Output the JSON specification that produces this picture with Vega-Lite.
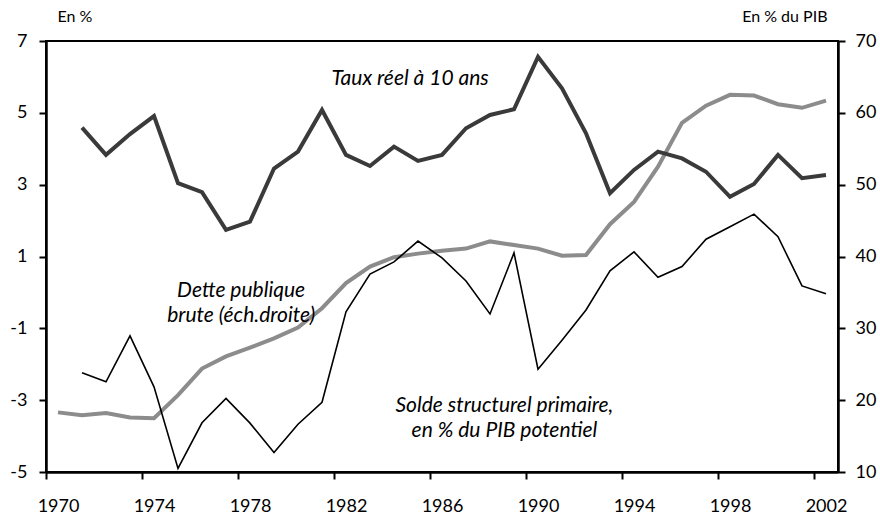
{
  "$schema": "https://vega.github.io/schema/vega-lite/v6.json",
  "width": 792,
  "height": 431,
  "autosize": {"type": "none"},
  "padding": {"left": 46, "top": 41, "right": 42, "bottom": 44},
  "background": "white",
  "config": {
    "view": {"stroke": "black", "strokeWidth": 2},
    "font": "Lato",
    "axis": {
      "grid": false,
      "zindex": 1,
      "domainColor": "black",
      "domainWidth": 2.5,
      "tickColor": "black",
      "tickWidth": 2,
      "tickSize": 7,
      "labelFont": "Lato",
      "labelFontSize": 18,
      "labelColor": "black",
      "labelExpr": "replace(datum.label, '−', '-')",
      "titleFont": "Lato",
      "titleFontSize": 16,
      "titleFontWeight": "normal",
      "titleColor": "black"
    }
  },
  "datasets": {
    "series": [
      {"year": 1970, "taux": null, "solde": null, "dette": 18.3},
      {"year": 1971, "taux": 4.59, "solde": -2.24, "dette": 17.9},
      {"year": 1972, "taux": 3.83, "solde": -2.49, "dette": 18.2},
      {"year": 1973, "taux": 4.41, "solde": -1.21, "dette": 17.6},
      {"year": 1974, "taux": 4.91, "solde": -2.63, "dette": 17.5},
      {"year": 1975, "taux": 3.04, "solde": -4.9, "dette": 20.7},
      {"year": 1976, "taux": 2.79, "solde": -3.63, "dette": 24.4},
      {"year": 1977, "taux": 1.74, "solde": -2.95, "dette": 26.1},
      {"year": 1978, "taux": 1.97, "solde": -3.64, "dette": 27.3},
      {"year": 1979, "taux": 3.45, "solde": -4.46, "dette": 28.6},
      {"year": 1980, "taux": 3.92, "solde": -3.67, "dette": 30.1},
      {"year": 1981, "taux": 5.08, "solde": -3.06, "dette": 32.8},
      {"year": 1982, "taux": 3.83, "solde": -0.54, "dette": 36.3},
      {"year": 1983, "taux": 3.52, "solde": 0.51, "dette": 38.6},
      {"year": 1984, "taux": 4.06, "solde": 0.85, "dette": 39.9},
      {"year": 1985, "taux": 3.66, "solde": 1.43, "dette": 40.4},
      {"year": 1986, "taux": 3.83, "solde": 0.96, "dette": 40.8},
      {"year": 1987, "taux": 4.57, "solde": 0.32, "dette": 41.1},
      {"year": 1988, "taux": 4.94, "solde": -0.6, "dette": 42.1},
      {"year": 1989, "taux": 5.1, "solde": 1.1, "dette": 41.6},
      {"year": 1990, "taux": 6.56, "solde": -2.14, "dette": 41.1},
      {"year": 1991, "taux": 5.68, "solde": -1.33, "dette": 40.1},
      {"year": 1992, "taux": 4.43, "solde": -0.49, "dette": 40.2},
      {"year": 1993, "taux": 2.76, "solde": 0.6, "dette": 44.5},
      {"year": 1994, "taux": 3.41, "solde": 1.13, "dette": 47.6},
      {"year": 1995, "taux": 3.92, "solde": 0.42, "dette": 52.5},
      {"year": 1996, "taux": 3.73, "solde": 0.72, "dette": 58.6},
      {"year": 1997, "taux": 3.36, "solde": 1.48, "dette": 61.0},
      {"year": 1998, "taux": 2.66, "solde": 1.83, "dette": 62.5},
      {"year": 1999, "taux": 3.02, "solde": 2.18, "dette": 62.4},
      {"year": 2000, "taux": 3.83, "solde": 1.55, "dette": 61.2},
      {"year": 2001, "taux": 3.18, "solde": 0.18, "dette": 60.7},
      {"year": 2002, "taux": 3.27, "solde": -0.04, "dette": 61.7}
    ],
    "labels": [
      {"year": 1984.67, "value": 5.94, "text": "Taux réel à 10 ans"},
      {"year": 1977.63, "value": 0.04, "text": "Dette publique\nbrute (éch.droite)"},
      {"year": 1988.6, "value": -3.15, "text": "Solde structurel primaire,\nen % du PIB potentiel"}
    ]
  },
  "encoding": {
    "x": {
      "field": "year",
      "type": "quantitative",
      "scale": {"domain": [1969.5, 2002.5], "nice": false, "zero": false},
      "axis": {
        "title": null,
        "values": [1970, 1974, 1978, 1982, 1986, 1990, 1994, 1998, 2002],
        "format": "d",
        "tickOffset": -12,
        "labelOffset": 12,
        "labelPadding": 18,
        "encode": {"ticks": {"update": {"y2": {"value": -7}}}}
      }
    }
  },
  "layer": [
    {
      "data": {"name": "series"},
      "mark": {"type": "line", "color": "#8c8c8c", "strokeWidth": 4, "strokeJoin": "miter"},
      "encoding": {
        "y": {
          "field": "dette",
          "type": "quantitative",
          "scale": {"domain": [10, 70], "nice": false, "zero": false},
          "axis": {
            "orient": "right",
            "values": [10, 20, 30, 40, 50, 60, 70],
            "labelPadding": 10,
            "encode": {"ticks": {"update": {"x2": {"value": -7}}}},
            "title": "En % du PIB",
            "titleAngle": 0,
            "titleAlign": "right",
            "titleBaseline": "middle",
            "titleX": -11,
            "titleY": -25
          }
        }
      }
    },
    {
      "layer": [
        {
          "data": {"name": "series"},
          "mark": {"type": "line", "color": "#3a3a3a", "strokeWidth": 4, "strokeJoin": "miter"},
          "encoding": {
            "y": {
              "field": "taux",
              "type": "quantitative",
              "scale": {"domain": [-5, 7], "nice": false, "zero": false},
              "axis": {
                "orient": "left",
                "values": [-5, -3, -1, 1, 3, 5, 7],
                "labelPadding": 12,
                "encode": {"ticks": {"update": {"x2": {"value": 7}}}},
                "title": "En %",
                "titleAngle": 0,
                "titleAlign": "left",
                "titleBaseline": "middle",
                "titleX": 11,
                "titleY": -25
              }
            }
          }
        },
        {
          "data": {"name": "series"},
          "mark": {"type": "line", "color": "black", "strokeWidth": 1.6, "strokeJoin": "miter"},
          "encoding": {
            "y": {"field": "solde", "type": "quantitative"}
          }
        },
        {
          "data": {"name": "labels"},
          "mark": {
            "type": "text",
            "font": "Lato",
            "fontSize": 21,
            "fontStyle": "italic",
            "color": "black",
            "align": "center",
            "baseline": "middle",
            "lineBreak": "\n",
            "lineHeight": 25
          },
          "encoding": {
            "y": {"field": "value", "type": "quantitative"},
            "text": {"field": "text"}
          }
        }
      ]
    }
  ],
  "resolve": {"scale": {"y": "independent"}}
}
